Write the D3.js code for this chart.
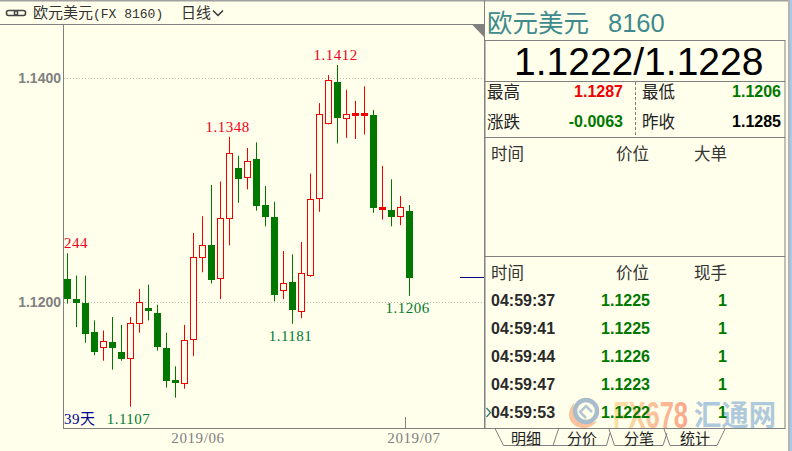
<!DOCTYPE html>
<html><head><meta charset="utf-8">
<script src="https://cdn.jsdelivr.net/npm/d3@7"></script>
<style>html,body{margin:0;padding:0;background:#ffffec;overflow:hidden}svg{display:block}</style>
</head><body><svg id="c" width="792" height="451"></svg>
<script>
const opens=[1.1221,1.1203,1.1200,1.1174,1.1160,1.1165,1.1156,1.1150,1.1181,1.1195,1.1191,1.1159,1.1131,1.1128,1.1167,1.1240,1.1251,1.1221,1.1275,1.1320,1.1312,1.1328,1.1287,1.1276,1.1211,1.1218,1.1192,1.1224,1.1293,1.1360,1.1397,1.1364,1.1367,1.1367,1.1367,1.1283,1.1283,1.1277,1.1282];
const closes=[1.1203,1.1200,1.1172,1.1156,1.1165,1.1159,1.1150,1.1181,1.1200,1.1192,1.1160,1.1130,1.1128,1.1166,1.1240,1.1251,1.1220,1.1275,1.1333,1.1310,1.1326,1.1286,1.1276,1.1207,1.1217,1.1193,1.1226,1.1292,1.1368,1.1398,1.1365,1.1368,1.1369,1.1369,1.1284,1.1285,1.1276,1.1285,1.1222];
const highs=[1.1244,1.1224,1.1224,1.1184,1.1175,1.1187,1.1180,1.1187,1.1212,1.1216,1.1198,1.1173,1.1143,1.1180,1.1262,1.1277,1.1305,1.1308,1.1348,1.1331,1.1338,1.1343,1.1304,1.1290,1.1246,1.1243,1.1254,1.1315,1.1378,1.1403,1.1412,1.1390,1.1380,1.1393,1.1372,1.1322,1.1310,1.1295,1.1287];
const lows=[1.1199,1.1178,1.1164,1.1153,1.1148,1.1140,1.1148,1.1107,1.1173,1.1184,1.1157,1.1124,1.1115,1.1123,1.1152,1.1227,1.1217,1.1203,1.1251,1.1289,1.1301,1.1282,1.1268,1.1201,1.1203,1.1181,1.1186,1.1223,1.1281,1.1359,1.1342,1.1347,1.1346,1.1350,1.1280,1.1274,1.1268,1.1269,1.1206];
const priceTicks=[1.14,1.12];
const dateTicks=[{i:15,label:"2019/06"},{i:37,label:"2019/07"}];
const highMarks=[18,30], lowMarks=[7,25,38];
const volumeText="244", daysText="39天";
const quoteRows=[["最高","1.1287","#f00000"],["涨跌","-0.0063","#007800"]];
const quoteRows2=[["最低","1.1206","#007800"],["昨收","1.1285","#000"]];
const tradeTimes=["04:59:37","04:59:41","04:59:44","04:59:47","04:59:53"];
const tradePrices=["1.1225","1.1225","1.1226","1.1223","1.1222"];
const tradeQty=["1","1","1","1","1"];
const tabs=["明细","分价","分笔","统计"];

const RED="#f00000",GREEN="#007800",BG="#ffffec",LINE="#808080";
const CJK="'Noto Sans CJK SC','Liberation Sans',sans-serif",SANS="'Liberation Sans',Arial,sans-serif",SERIF="'Liberation Serif',serif";
const svg=d3.select("#c");
svg.append("rect").attr("width",792).attr("height",451).attr("fill",BG);

const y=d3.scaleLinear().domain([1.12,1.14]).range([302.5,78.5]);
const x=d3.scaleLinear().domain([0,38]).range([67.5,409.5]);
const px=v=>Math.round(v-.5)+.5;
function line(x1,y1,x2,y2,c=LINE,w=1,dash){const l=svg.append("line").attr("x1",x1).attr("y1",y1).attr("x2",x2).attr("y2",y2).attr("stroke",c).attr("stroke-width",w);if(dash)l.attr("stroke-dasharray",dash);return l;}
function text(s,x0,y0,o={}){const t=svg.append("text").attr("x",x0).attr("y",y0).text(s)
 .attr("font-family",o.f||CJK).attr("font-size",o.s||15).attr("fill",o.c||"#333").attr("font-weight",o.w||"normal").attr("text-anchor",o.a||"start");
 if(o.ls)t.attr("letter-spacing",o.ls);if(o.len)t.attr("textLength",o.len).attr("lengthAdjust","spacingAndGlyphs");if(o.op)t.attr("opacity",o.op);return t;}

// frame
svg.append("rect").attr("width",788).attr("height",1.5).attr("fill","#a0a0a0");
svg.append("rect").attr("x",788).attr("width",2).attr("height",451).attr("fill","#b4b4b4");
svg.append("rect").attr("x",790).attr("width",2).attr("height",451).attr("fill","#a9c9ea");
line(0,24.5,484,24.5);
line(484.5,0,484.5,429);
line(63.5,24,63.5,429);
line(63,428.5,495,428.5);
svg.append("path").attr("d","M472 24.5H484V37Z").attr("fill","#808080");

// header
const chain=svg.append("g").attr("fill","none").attr("stroke","#444").attr("stroke-width",1.6);
chain.append("rect").attr("x",6.5).attr("y",10.5).attr("width",11).attr("height",5).attr("rx",2);
chain.append("rect").attr("x",14.5).attr("y",10.5).attr("width",11).attr("height",5).attr("rx",2);
text("欧元美元",33,18,{s:15});
text("(FX 8160)",93,18,{f:"'Liberation Mono',monospace",s:13});
text("日线",181,18,{s:15});
svg.append("path").attr("d","M213 10.5L218 15.5L223 10.5").attr("fill","none").attr("stroke","#333").attr("stroke-width",1.5);

// grid & axes
const gY=svg.append("g").attr("transform","translate(61,0)").call(d3.axisLeft(y).tickValues(priceTicks).tickFormat(d3.format(".4f")).tickSize(0).tickPadding(0));
gY.select(".domain").remove();
gY.selectAll("text").style("font-family",SANS).attr("font-size",14).attr("font-weight","bold").attr("fill","#808080");
priceTicks.forEach(p=>line(64,y(p),484,y(p),"#bdbdae",1,"1 2"));
const gX=svg.append("g").attr("transform","translate(0,429)").call(d3.axisBottom(x).tickValues(dateTicks.map(d=>d.i)).tickFormat(i=>dateTicks.find(d=>d.i===i).label).tickSize(0).tickPadding(0));
gX.select(".domain").remove();
gX.selectAll("text").attr("font-family",SERIF).attr("font-size",15).attr("letter-spacing",.6).attr("fill","#808080").attr("dy","14");
gX.selectAll(".tick").attr("transform",d=>`translate(${d===15?198:414},0)`);
line(405.5,417,405.5,428);
line(460,277.5,484,277.5,"#000080");

// candles
const g=svg.append("g");
opens.forEach((o,i)=>{
 const c=closes[i],up=c>o,col=up?RED:GREEN,cx=x(i);
 const top=y(Math.max(o,c)),bot=y(Math.min(o,c));
 g.append("line").attr("x1",cx).attr("x2",cx).attr("y1",y(highs[i])).attr("y2",y(lows[i])).attr("stroke",col);
 if(up){
  const t=px(top),h=Math.max(1,px(bot)-t);
  g.append("rect").attr("x",cx-3).attr("width",6).attr("y",t).attr("height",h).attr("fill",h<3?col:BG).attr("stroke",col);
 }else{
  g.append("rect").attr("x",cx-3.5).attr("width",7).attr("y",Math.round(top)).attr("height",Math.max(1,Math.round(bot)-Math.round(top))).attr("fill",col);
 }
});
const fmt=d3.format(".4f");
highMarks.forEach(i=>text(fmt(highs[i]),x(i)-2,y(highs[i])-5,{f:SERIF,s:15,c:"#f00020",a:"middle",ls:.5}));
lowMarks.forEach(i=>text(fmt(lows[i]),x(i)-2,y(lows[i])+17,{f:SERIF,s:15,c:"#007a30",a:"middle",ls:.5}));
text(volumeText,64,248,{f:SERIF,s:15,c:"#f00020",ls:.5});
text("39",64,424,{f:SERIF,s:15,c:"#000090",ls:.5});
text("天",80,424,{s:15,c:"#000090"});

// watermark
const defs=svg.append("defs");
const gr=defs.append("linearGradient").attr("id","wm");
gr.append("stop").attr("offset","0").attr("stop-color","#fde2a8");
gr.append("stop").attr("offset","1").attr("stop-color","#f9a68c");
const wm=svg.append("g");
wm.append("path").attr("d","M574 403C566 412 568 423 578 427C586 430 594 426 597 421C590 424 580 423 576 416C574 412 573 407 574 403Z").attr("fill","#fbc49c");
wm.append("circle").attr("cx",586).attr("cy",411).attr("r",11).attr("fill","none").attr("stroke","#a8bccc").attr("stroke-width",4.5);
wm.append("path").attr("d","M592 412L586 406L580 412L586 418").attr("fill","none").attr("stroke","#b4c6d2").attr("stroke-width",2.5);
text("FX678",613,428,{f:SANS,s:36,w:"bold",len:75}).attr("fill","url(#wm)");
text("汇通网",694,426,{s:29,w:"bold",c:"#afc9dc",len:82});

// right panel
svg.append("rect").attr("x",485).attr("y",40.5).attr("width",300).attr("height",388).attr("fill","none").attr("stroke",LINE);
line(485,81.5,785,81.5);line(485,137.5,785,137.5);line(485,256.5,785,256.5);
line(635.5,82,635.5,137,"#808080",1,"3 2");
text("欧元美元",487,32,{s:25.5,c:"#3f8a8c"});
text("8160",608,32,{f:SANS,s:25.5,c:"#3f8a8c"});
text("1.1222/1.1228",514,75,{f:SANS,s:39,c:"#000"});
quoteRows.forEach((r,i)=>{text(r[0],487,98+30*i,{s:16.5,c:"#222"});text(r[1],623,97+30*i,{f:SANS,s:16,w:"bold",c:r[2],a:"end"});});
quoteRows2.forEach((r,i)=>{text(r[0],642,98+30*i,{s:16.5,c:"#222"});text(r[1],781,97+30*i,{f:SANS,s:16,w:"bold",c:r[2],a:"end"});});
[["时间",491],["价位",616],["大单",694]].forEach(d=>text(d[0],d[1],160,{s:16.5}));
[["时间",491],["价位",616],["现手",694]].forEach(d=>text(d[0],d[1],279,{s:16.5}));
tradeTimes.forEach((t,i)=>{
 const b=306+28*i;
 text(t,491,b,{f:SANS,s:16,w:"bold",c:"#2a2a2a"});
 text(tradePrices[i],650,b,{f:SANS,s:16,w:"bold",c:GREEN,a:"end"});
 text(tradeQty[i],727,b,{f:SANS,s:16,w:"bold",c:GREEN,a:"end"});
});
svg.append("path").attr("d","M486.5 408L490.5 412.5L486.5 417").attr("fill","none").attr("stroke","#307878").attr("stroke-width",1.3);

// tabs
const tabPaths=["M484 428.5H495L503.5 445.5H553L558.5 429","M553 445.5H606.5L610 433","M609 429L614.5 445.5H663L667 433","M664 429L670 445.5H717L725 429"];
tabPaths.forEach(d=>svg.append("path").attr("d",d).attr("fill","none").attr("stroke",LINE));
line(558,428.5,785,428.5);
[511,567,624,680].forEach((tx,i)=>text(tabs[i],tx,444,{s:15,c:"#222"}));
</script></body></html>
